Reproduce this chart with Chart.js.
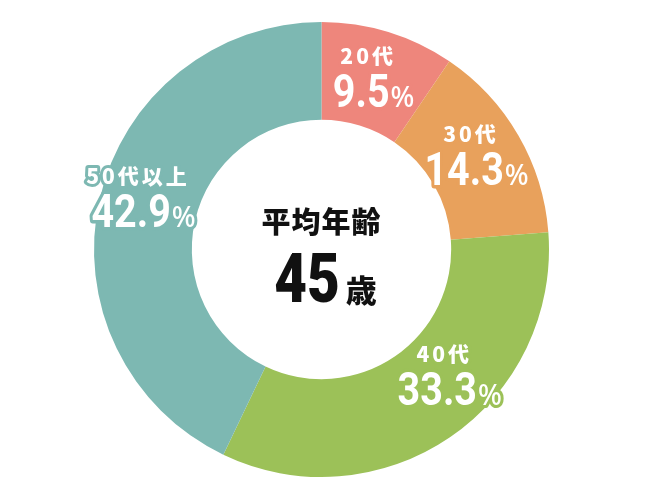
<!DOCTYPE html>
<html>
<head>
<meta charset="utf-8">
<script src="https://cdn.jsdelivr.net/npm/chart.js@4/dist/chart.umd.min.js"></script>
<style>
  body { margin: 0; background: #fff; }
  canvas { display: block; }
</style>
</head>
<body>
<canvas id="ageChart" width="650" height="500"></canvas>
<script>
// age groups and their share of staff (%)
const ageLabels = ['20代', '30代', '40代', '50代以上'];
const shares = [9.5, 14.3, 33.3, 42.9];
const sliceColors = ['#ee867c', '#e8a15c', '#9cc158', '#7db8b2'];

// centre text
const centerTitle = '平均年齢';
const averageAge = '45';
const ageUnit = '歳';

// small nudges for where each label sits on its slice (degrees / px)
const labelAngleShift = [0, 0, -10, 2];
const labelRadiusShift = [-3, 0, 4, 6];

const numFont = 'bold 47px Roboto, sans-serif';
const numSqueeze = 0.84; // narrow the digits like the original's condensed face
const pctFont = '500 28px "Noto Sans", sans-serif';
const ageFont = '900 21px "Noto Sans CJK JP", sans-serif';

// draw text squeezed horizontally, returns drawn width
function squeezed(ctx, text, x, y, sx, mode) {
  ctx.save();
  ctx.translate(x, y);
  ctx.scale(sx, 1);
  if (mode === 'stroke') ctx.strokeText(text, 0, 0);
  else ctx.fillText(text, 0, 0);
  ctx.restore();
}

// draws the white, outlined labels on each slice
const sliceLabels = {
  id: 'sliceLabels',
  afterDatasetsDraw(chart) {
    const ctx = chart.ctx;
    const meta = chart.getDatasetMeta(0);
    ctx.save();
    ctx.lineJoin = 'round';
    ctx.textBaseline = 'alphabetic';
    meta.data.forEach((arc, i) => {
      const p = arc.getProps(['x', 'y', 'startAngle', 'endAngle', 'innerRadius', 'outerRadius'], true);
      const mid = (p.startAngle + p.endAngle) / 2 + labelAngleShift[i] * Math.PI / 180;
      const r = (p.innerRadius + p.outerRadius) / 2 + labelRadiusShift[i];
      const x = p.x + Math.cos(mid) * r;
      const y = p.y + Math.sin(mid) * r;
      const color = sliceColors[i];

      // line 1: age group
      ctx.font = ageFont;
      ctx.letterSpacing = '3px';
      ctx.textAlign = 'center';
      ctx.lineWidth = 6;
      ctx.strokeStyle = color;
      ctx.fillStyle = '#fff';
      ctx.strokeText(ageLabels[i], x - 5, y - 18);
      ctx.fillText(ageLabels[i], x - 5, y - 18);

      // line 2: big number + small %
      ctx.letterSpacing = '0px';
      ctx.textAlign = 'left';
      const num = shares[i].toFixed(1);
      ctx.font = numFont;
      const w1 = ctx.measureText(num).width * numSqueeze;
      ctx.font = pctFont;
      const w2 = ctx.measureText('%').width;
      const left = x - (w1 + w2) / 2;
      ctx.lineWidth = 6 / numSqueeze;
      ctx.font = numFont;
      squeezed(ctx, num, left, y + 25, numSqueeze, 'stroke');
      ctx.lineWidth = 6;
      ctx.font = pctFont;
      ctx.strokeText('%', left + w1 + 1, y + 25);
      ctx.font = numFont;
      squeezed(ctx, num, left, y + 25, numSqueeze, 'fill');
      ctx.font = pctFont;
      ctx.fillText('%', left + w1 + 1, y + 25);
    });
    ctx.restore();
  }
};

// average age in the hole
const centerText = {
  id: 'centerText',
  afterDraw(chart) {
    const ctx = chart.ctx;
    const arc = chart.getDatasetMeta(0).data[0];
    const cx = arc.x, cy = arc.y;
    ctx.save();
    ctx.fillStyle = '#111';
    ctx.textBaseline = 'alphabetic';
    ctx.textAlign = 'center';
    ctx.font = '900 29px "Noto Sans CJK JP", sans-serif';
    ctx.letterSpacing = '1px';
    ctx.fillText(centerTitle, cx, cy - 17);

    ctx.letterSpacing = '0px';
    ctx.textAlign = 'left';
    const bigFont = '900 69px Roboto, sans-serif';
    const bigSqueeze = 0.82;
    const unitFont = '900 31px "Noto Sans CJK JP", sans-serif';
    ctx.font = bigFont;
    const w1 = ctx.measureText(averageAge).width * bigSqueeze;
    ctx.font = unitFont;
    const w2 = ctx.measureText(ageUnit).width;
    const left = cx + 4 - (w1 + 6 + w2) / 2;
    ctx.font = bigFont;
    squeezed(ctx, averageAge, left, cy + 52, bigSqueeze, 'fill');
    ctx.font = unitFont;
    ctx.fillText(ageUnit, left + w1 + 6, cy + 52);
    ctx.restore();
  }
};

const ctx = document.getElementById('ageChart').getContext('2d');

new Chart(ctx, {
  type: 'doughnut',
  data: {
    labels: ageLabels,
    datasets: [{
      data: shares,
      backgroundColor: sliceColors,
      borderWidth: 0
    }]
  },
  options: {
    responsive: false,
    animation: false,
    events: [],
    cutout: '57%',
    layout: {
      padding: { top: 22, bottom: 23, left: 0, right: 7 }
    },
    plugins: {
      legend: { display: false },
      tooltip: { enabled: false }
    }
  },
  plugins: [sliceLabels, centerText]
});
</script>
</body>
</html>
